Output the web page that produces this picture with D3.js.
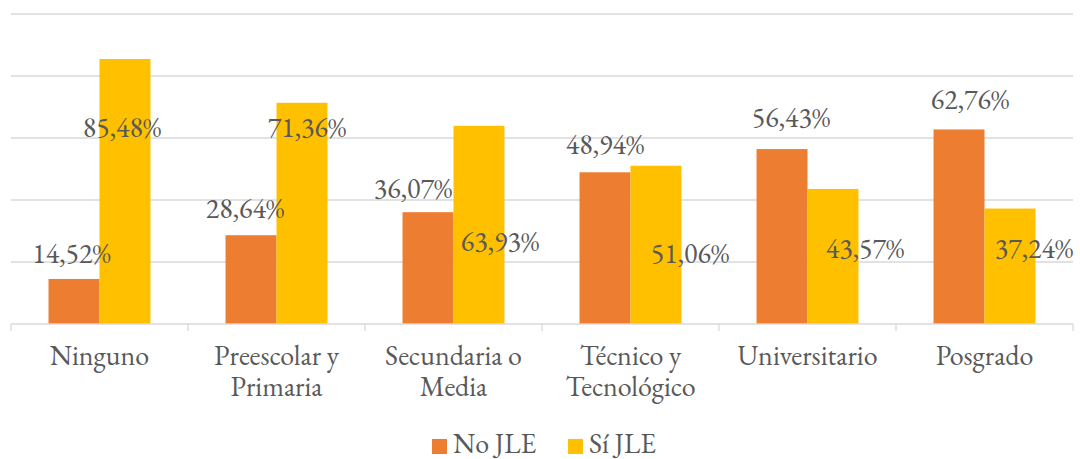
<!DOCTYPE html>
<html>
<head>
<meta charset="utf-8">
<script src="https://cdn.jsdelivr.net/npm/d3@7"></script>
<style>
	body { margin: 0; background: #fff; }
</style>
</head>
<body>
<div id="chart"></div>
<script>
// Data
const categories = [
	["Ninguno"],
	["Preescolar y", "Primaria"],
	["Secundaria o", "Media"],
	["Técnico y", "Tecnológico"],
	["Universitario"],
	["Posgrado"],
];
const noJLE = [14.52, 28.64, 36.07, 48.94, 56.43, 62.76];
const siJLE = [85.48, 71.36, 63.93, 51.06, 43.57, 37.24];
const seriesNames = ["No JLE", "Sí JLE"];
const yTicks = [0, 20, 40, 60, 80, 100];

// Label anchors as they sit in the original (value units, manual placement)
const noLabelAt = [19.7, 34.2, 40.6, 54.8, 63.5, 69.4];
const siLabelAt = [60.3, 60.3, 23.5, 19.7, 21.3, 21.3];
const noLabelDx = [-2.5, -6, -15, 0, 9, 11];
const siLabelDx = [-3, 5, 21, 34, 32, 24];

const W = 1080, H = 459;
const margin = { top: 14, right: 7, bottom: 135, left: 11 };
const width = W - margin.left - margin.right;
const height = H - margin.top - margin.bottom;
const fontSize = 28;

const colors = d3.scaleOrdinal().domain(seriesNames).range(["#ED7D31", "#FFC000"]);

const svg = d3.select("#chart").append("svg")
	.attr("width", W)
	.attr("height", H)
	.attr("font-family", "'EB Garamond', 'Liberation Serif', serif")
	.attr("fill", "#595959");

const g = svg.append("g").attr("transform", `translate(${margin.left},${margin.top})`);

const x0 = d3.scaleBand()
	.domain(d3.range(categories.length))
	.range([0, width])
	.paddingInner(0.424)
	.paddingOuter(0.212);

const x1 = d3.scaleBand()
	.domain(seriesNames)
	.range([0, x0.bandwidth()]);

const y = d3.scaleLinear().domain([0, 100]).range([height, 0]);

// Gridlines
g.append("g")
	.selectAll("line")
	.data(yTicks.filter((d) => d > 0))
	.join("line")
	.attr("x1", 0)
	.attr("x2", width)
	.attr("y1", (d) => y(d))
	.attr("y2", (d) => y(d))
	.attr("stroke", "#d9d9d9")
	.attr("stroke-width", 1.3);

// Bars
const rows = categories.map((c, i) => ({ i, values: [noJLE[i], siJLE[i]] }));

const groups = g.selectAll(".grp")
	.data(rows)
	.join("g")
	.attr("class", "grp")
	.attr("transform", (d) => `translate(${x0(d.i)},0)`);

groups.selectAll("rect")
	.data((d) => d.values.map((v, k) => ({ key: seriesNames[k], v })))
	.join("rect")
	.attr("x", (d) => x1(d.key))
	.attr("y", (d) => y(d.v))
	.attr("width", x1.bandwidth())
	.attr("height", (d) => height - y(d.v))
	.attr("fill", (d) => colors(d.key));

// X axis (baseline with tick marks between categories)
const step = width / categories.length;
g.append("line")
	.attr("x1", 0).attr("x2", width)
	.attr("y1", height).attr("y2", height)
	.attr("stroke", "#d9d9d9").attr("stroke-width", 1.3);
g.append("g")
	.selectAll("line")
	.data(d3.range(categories.length + 1))
	.join("line")
	.attr("x1", (d) => d * step)
	.attr("x2", (d) => d * step)
	.attr("y1", height)
	.attr("y2", height + 7)
	.attr("stroke", "#d9d9d9")
	.attr("stroke-width", 1.3);

// Category labels
const catText = g.append("g")
	.selectAll("text")
	.data(categories)
	.join("text")
	.attr("text-anchor", "middle")
	.attr("font-size", fontSize)
	.attr("transform", (d, i) => `translate(${x0(i) + x0.bandwidth() / 2},${height + 41})`);
catText.selectAll("tspan")
	.data((d) => d)
	.join("tspan")
	.attr("x", 0)
	.attr("dy", (d, k) => (k === 0 ? 0 : 31))
	.text((d) => d);

// Value labels
const fmt = (v) => v.toFixed(2).replace(".", ",") + "%";
rows.forEach((r) => {
	const cx = x0(r.i);
	g.append("text")
		.attr("text-anchor", "middle")
		.attr("font-size", fontSize)
		.attr("x", cx + x1("No JLE") + x1.bandwidth() / 2 + noLabelDx[r.i])
		.attr("y", y(noLabelAt[r.i]))
		.text(fmt(noJLE[r.i]));
	g.append("text")
		.attr("text-anchor", "middle")
		.attr("font-size", fontSize)
		.attr("x", cx + x1("Sí JLE") + x1.bandwidth() / 2 + siLabelDx[r.i])
		.attr("y", y(siLabelAt[r.i]))
		.text(fmt(siJLE[r.i]));
});

// Legend
const legend = svg.append("g").attr("transform", "translate(432,453)");
const legendX = [0, 136];
seriesNames.forEach((name, k) => {
	const item = legend.append("g").attr("transform", `translate(${legendX[k]},0)`);
	item.append("rect")
		.attr("x", 0).attr("y", -14)
		.attr("width", 15).attr("height", 15)
		.attr("fill", colors(name));
	item.append("text")
		.attr("x", 21)
		.attr("y", 0)
		.attr("font-size", fontSize)
		.text(name);
});
</script>
</body>
</html>
